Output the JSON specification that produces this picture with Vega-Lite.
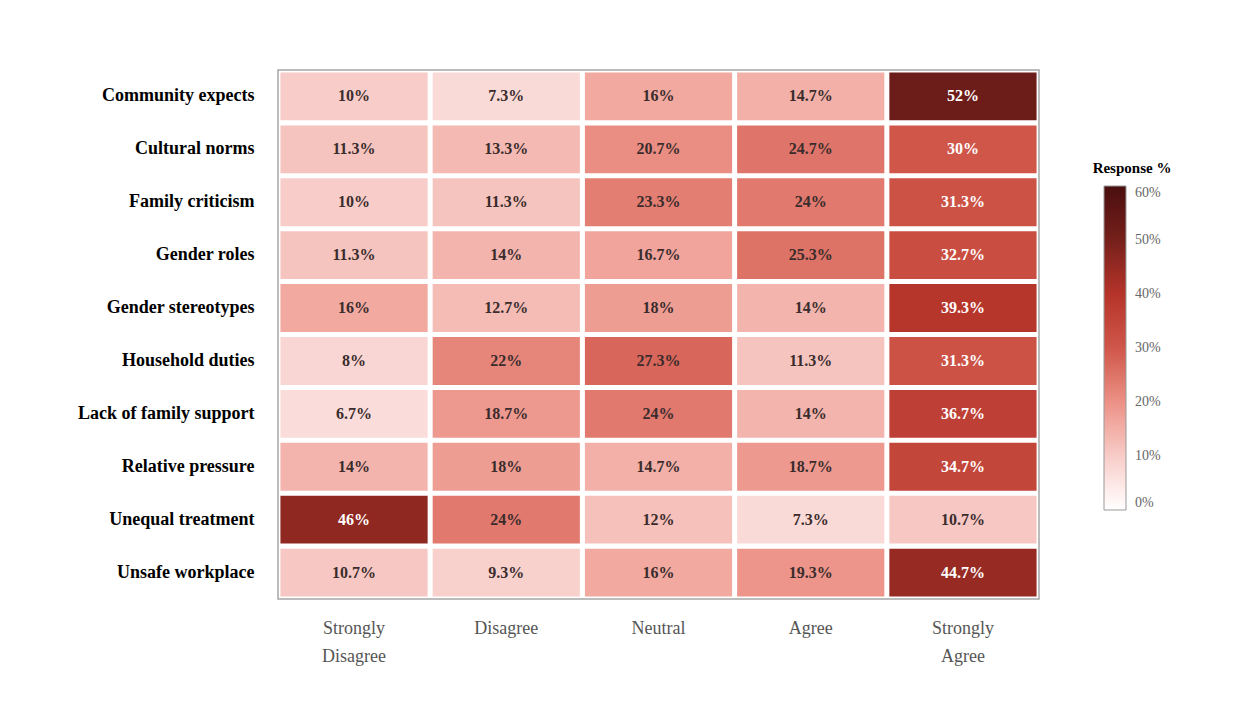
{
  "$schema": "https://vega.github.io/schema/vega-lite/v6.json",
  "width": 761,
  "height": 529,
  "padding": {"left": 77, "top": 70, "right": 10, "bottom": 10},
  "background": "white",
  "config": {
    "view": {"stroke": "#a6a6a6", "strokeWidth": 1.5},
    "font": "Liberation Serif"
  },
  "data": {
    "values": [
      {"f": "Community expects", "r": "Strongly Disagree", "p": 0.10},
      {"f": "Community expects", "r": "Disagree", "p": 0.073},
      {"f": "Community expects", "r": "Neutral", "p": 0.16},
      {"f": "Community expects", "r": "Agree", "p": 0.147},
      {"f": "Community expects", "r": "Strongly Agree", "p": 0.52},
      {"f": "Cultural norms", "r": "Strongly Disagree", "p": 0.113},
      {"f": "Cultural norms", "r": "Disagree", "p": 0.133},
      {"f": "Cultural norms", "r": "Neutral", "p": 0.207},
      {"f": "Cultural norms", "r": "Agree", "p": 0.247},
      {"f": "Cultural norms", "r": "Strongly Agree", "p": 0.30},
      {"f": "Family criticism", "r": "Strongly Disagree", "p": 0.10},
      {"f": "Family criticism", "r": "Disagree", "p": 0.113},
      {"f": "Family criticism", "r": "Neutral", "p": 0.233},
      {"f": "Family criticism", "r": "Agree", "p": 0.24},
      {"f": "Family criticism", "r": "Strongly Agree", "p": 0.313},
      {"f": "Gender roles", "r": "Strongly Disagree", "p": 0.113},
      {"f": "Gender roles", "r": "Disagree", "p": 0.14},
      {"f": "Gender roles", "r": "Neutral", "p": 0.167},
      {"f": "Gender roles", "r": "Agree", "p": 0.253},
      {"f": "Gender roles", "r": "Strongly Agree", "p": 0.327},
      {"f": "Gender stereotypes", "r": "Strongly Disagree", "p": 0.16},
      {"f": "Gender stereotypes", "r": "Disagree", "p": 0.127},
      {"f": "Gender stereotypes", "r": "Neutral", "p": 0.18},
      {"f": "Gender stereotypes", "r": "Agree", "p": 0.14},
      {"f": "Gender stereotypes", "r": "Strongly Agree", "p": 0.393},
      {"f": "Household duties", "r": "Strongly Disagree", "p": 0.08},
      {"f": "Household duties", "r": "Disagree", "p": 0.22},
      {"f": "Household duties", "r": "Neutral", "p": 0.273},
      {"f": "Household duties", "r": "Agree", "p": 0.113},
      {"f": "Household duties", "r": "Strongly Agree", "p": 0.313},
      {"f": "Lack of family support", "r": "Strongly Disagree", "p": 0.067},
      {"f": "Lack of family support", "r": "Disagree", "p": 0.187},
      {"f": "Lack of family support", "r": "Neutral", "p": 0.24},
      {"f": "Lack of family support", "r": "Agree", "p": 0.14},
      {"f": "Lack of family support", "r": "Strongly Agree", "p": 0.367},
      {"f": "Relative pressure", "r": "Strongly Disagree", "p": 0.14},
      {"f": "Relative pressure", "r": "Disagree", "p": 0.18},
      {"f": "Relative pressure", "r": "Neutral", "p": 0.147},
      {"f": "Relative pressure", "r": "Agree", "p": 0.187},
      {"f": "Relative pressure", "r": "Strongly Agree", "p": 0.347},
      {"f": "Unequal treatment", "r": "Strongly Disagree", "p": 0.46},
      {"f": "Unequal treatment", "r": "Disagree", "p": 0.24},
      {"f": "Unequal treatment", "r": "Neutral", "p": 0.12},
      {"f": "Unequal treatment", "r": "Agree", "p": 0.073},
      {"f": "Unequal treatment", "r": "Strongly Agree", "p": 0.107},
      {"f": "Unsafe workplace", "r": "Strongly Disagree", "p": 0.107},
      {"f": "Unsafe workplace", "r": "Disagree", "p": 0.093},
      {"f": "Unsafe workplace", "r": "Neutral", "p": 0.16},
      {"f": "Unsafe workplace", "r": "Agree", "p": 0.193},
      {"f": "Unsafe workplace", "r": "Strongly Agree", "p": 0.447}
    ]
  },
  "encoding": {
    "x": {
      "field": "r",
      "type": "nominal",
      "sort": ["Strongly Disagree", "Disagree", "Neutral", "Agree", "Strongly Agree"],
      "scale": {"paddingInner": 0.033, "paddingOuter": 0.016},
      "axis": {
        "title": null,
        "orient": "bottom",
        "labelAngle": 0,
        "domain": false,
        "ticks": false,
        "labelFont": "Liberation Serif",
        "labelFontSize": 18,
        "labelColor": "#555555",
        "labelPadding": 20,
        "labelBaseline": "top",
        "labelLineHeight": 28,
        "labelExpr": "split(datum.label, ' ')"
      }
    },
    "y": {
      "field": "f",
      "type": "nominal",
      "sort": ["Community expects", "Cultural norms", "Family criticism", "Gender roles", "Gender stereotypes", "Household duties", "Lack of family support", "Relative pressure", "Unequal treatment", "Unsafe workplace"],
      "scale": {"paddingInner": 0.095, "paddingOuter": 0.047},
      "axis": {
        "title": null,
        "domain": false,
        "ticks": false,
        "labelFont": "Liberation Serif",
        "labelFontSize": 18,
        "labelFontWeight": "bold",
        "labelColor": "#000000",
        "labelPadding": 24,
        "minExtent": 200,
        "maxExtent": 200
      }
    }
  },
  "layer": [
    {
      "mark": {"type": "rect"},
      "encoding": {
        "color": {
          "field": "p",
          "type": "quantitative",
          "scale": {
            "domain": [0, 0.1, 0.2, 0.3, 0.4, 0.5, 0.6],
            "range": ["#ffffff", "#f8ccc8", "#ec9186", "#d0564a", "#b5342a", "#76201b", "#4a0f0f"],
            "interpolate": "rgb"
          },
          "legend": {
            "title": "Response %",
            "orient": "none",
            "legendX": 815,
            "legendY": 91,
            "direction": "vertical",
            "gradientLength": 324,
            "gradientThickness": 22,
            "gradientStrokeColor": "#999999",
            "gradientStrokeWidth": 1,
            "values": [0, 0.1, 0.2, 0.3, 0.4, 0.5, 0.6],
            "format": ".0%",
            "labelFont": "Liberation Serif",
            "labelFontSize": 14,
            "labelColor": "#666666",
            "labelOffset": 9,
            "labelBaseline": "middle",
            "titleFont": "Liberation Serif",
            "titleFontSize": 15,
            "titleFontWeight": "bold",
            "titleColor": "#000000",
            "titleAnchor": "middle",
            "titlePadding": 10
          }
        }
      }
    },
    {
      "mark": {"type": "text", "fontWeight": "bold", "fontSize": 16, "font": "Liberation Serif"},
      "encoding": {
        "text": {"field": "p", "type": "quantitative", "format": ".1~%"},
        "color": {
          "condition": {"test": "datum.p >= 0.295", "value": "#ffffff"},
          "value": "#3a2c2c"
        }
      }
    }
  ]
}
